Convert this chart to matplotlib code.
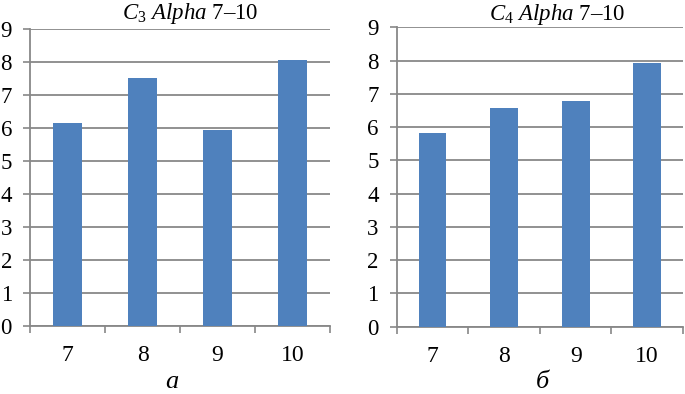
import matplotlib.pyplot as plt
import numpy as np

plt.rcParams['font.family'] = ['Liberation Serif', 'DejaVu Serif']
plt.rcParams['mathtext.fontset'] = 'custom'
plt.rcParams['mathtext.rm'] = 'Liberation Serif'
plt.rcParams['mathtext.it'] = 'Liberation Serif:italic'

categories = ['7', '8', '9', '10']
c3_values = [6.16, 7.53, 5.94, 8.05]
c4_values = [5.81, 6.56, 6.77, 7.93]
titles = [r'$\mathit{C}_{\mathrm{3}}\ \mathit{Alpha}$ 7–10', r'$\mathit{C}_{\mathrm{4}}\ \mathit{Alpha}$ 7–10']
sublabels = ['а', 'б']

bar_color = '#4F81BD'
grid_color = '#888888'

fig = plt.figure(figsize=(6.85, 3.94), dpi=100)
ax1 = fig.add_axes([30/685, 68/394, 300/685, 297/394])
ax2 = fig.add_axes([396.7/685, 67.3/394, 286.3/685, 299.4/394])

for ax, vals, title, tx, tpad in zip([ax1, ax2], [c3_values, c4_values], titles, [0.533, 0.56], [7, 5]):
    x = np.arange(len(categories))
    ax.bar(x, vals, width=0.39, color=bar_color, zorder=3)
    ax.set_xlim(-0.5, len(categories) - 0.5)
    ax.set_ylim(0, 9)
    ax.set_yticks(range(0, 10))
    ax.yaxis.grid(True, color=grid_color, linewidth=1.3, zorder=0)
    ax.set_xticks(x)
    ax.set_xticklabels(categories)
    ax.set_xticks(np.arange(-0.5, len(categories)), minor=True)
    ax.tick_params(axis='x', which='major', length=0, pad=14, labelsize=17)
    ax.tick_params(axis='x', which='minor', length=5, width=1.2, color=grid_color, direction='out')
    ax.tick_params(axis='y', length=5, width=1.2, color=grid_color, pad=8, labelsize=16.5)
    for s in ['top', 'right']:
        ax.spines[s].set_visible(False)
    for s in ['left', 'bottom']:
        ax.spines[s].set_color(grid_color)
        ax.spines[s].set_linewidth(1.3)
    t = ax.set_title(title, fontsize=16.5, pad=tpad)
    t.set_x(tx)

fig.text(172/685, 1/394, sublabels[0], fontsize=19, fontstyle='italic', ha='center', va='bottom')
fig.text(542/685, 1/394, sublabels[1], fontsize=19, fontstyle='italic', ha='center', va='bottom')

fig.savefig('out.png', dpi=100)
